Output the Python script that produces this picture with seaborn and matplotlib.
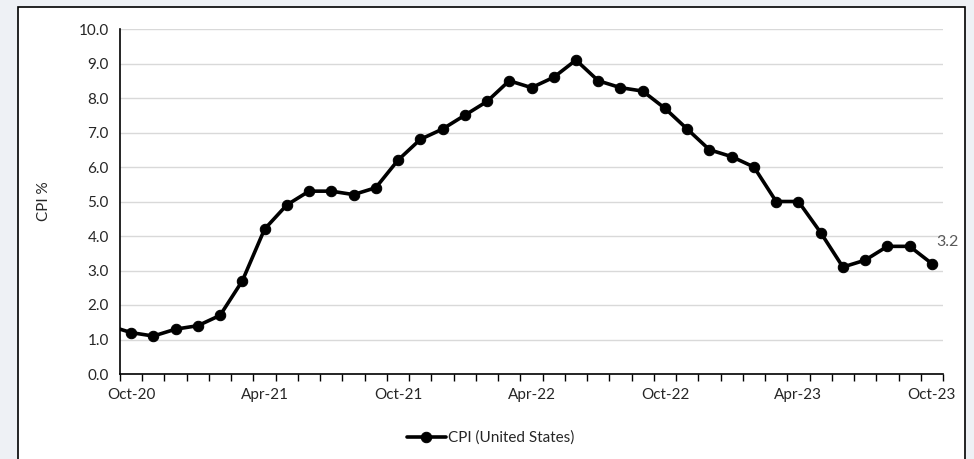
'''US CPI line chart, Oct-20 to Oct-23'''
import numpy as np
import pandas as pd
import seaborn as sns
import matplotlib.pyplot as plt
from matplotlib.patches import Rectangle

# monthly CPI %, Sep-20 (clipped at the left edge) to Oct-23
months = ['Sep-20', 'Oct-20', 'Nov-20', 'Dec-20', 'Jan-21', 'Feb-21', 'Mar-21',
          'Apr-21', 'May-21', 'Jun-21', 'Jul-21', 'Aug-21', 'Sep-21',
          'Oct-21', 'Nov-21', 'Dec-21', 'Jan-22', 'Feb-22', 'Mar-22',
          'Apr-22', 'May-22', 'Jun-22', 'Jul-22', 'Aug-22', 'Sep-22',
          'Oct-22', 'Nov-22', 'Dec-22', 'Jan-23', 'Feb-23', 'Mar-23',
          'Apr-23', 'May-23', 'Jun-23', 'Jul-23', 'Aug-23', 'Sep-23', 'Oct-23']
cpi = [1.4, 1.2, 1.1, 1.3, 1.4, 1.7, 2.7,
       4.2, 4.9, 5.3, 5.3, 5.2, 5.4,
       6.2, 6.8, 7.1, 7.5, 7.9, 8.5,
       8.3, 8.6, 9.1, 8.5, 8.3, 8.2,
       7.7, 7.1, 6.5, 6.3, 6.0, 5.0,
       5.0, 4.1, 3.1, 3.3, 3.7, 3.7, 3.2]
tick_labels = ['Oct-20', 'Apr-21', 'Oct-21', 'Apr-22', 'Oct-22', 'Apr-23', 'Oct-23']
series_name = 'CPI (United States)'


def main():
    sns.set_style('white')
    plt.rcParams['font.family'] = ['Lato', 'DejaVu Sans']

    df = pd.DataFrame({'month': months, 'cpi': cpi})
    df['pos'] = np.arange(len(df)) - 1  # Oct-20 -> 0

    fig = plt.figure(figsize=(9.74, 4.59), dpi=100, facecolor='#eef1f5')
    box = Rectangle((18 / 974, -0.02), 947 / 974, 1.02 - 7 / 459,
                    transform=fig.transFigure, facecolor='white',
                    edgecolor='black', linewidth=1.2, zorder=-5)
    fig.add_artist(box)
    ax = fig.add_axes([120 / 974, 85 / 459, 823 / 974, 345 / 459])
    ax.set_zorder(2)
    ax.set_facecolor('white')

    sns.lineplot(data=df, x='pos', y='cpi', ax=ax, color='black',
                 linewidth=2.6, marker='o', markersize=7.5,
                 markeredgecolor='black', label=series_name, clip_on=True)

    ax.set_xlim(-0.5, 36.5)
    ax.set_ylim(0, 10)
    ax.set_yticks(np.arange(0, 10.1, 1.0))
    ax.set_yticklabels([f'{v:.1f}' for v in np.arange(0, 10.1, 1.0)])
    ax.set_xticks(df['pos'][df['month'].isin(tick_labels)])
    ax.set_xticklabels(tick_labels)
    ax.set_xticks(np.arange(-0.5, 37, 1), minor=True)
    ax.tick_params(axis='x', which='major', length=0, pad=10, labelsize=11,
                   labelcolor='#262626')
    ax.tick_params(axis='x', which='minor', length=5, width=1, color='black',
                   direction='out', bottom=True)
    ax.tick_params(axis='y', length=0, pad=8, labelsize=11, labelcolor='#262626')
    ax.grid(axis='y', color='#d9d9d9', linewidth=1)
    ax.set_axisbelow(True)
    ax.set_xlabel('')
    ax.set_ylabel('CPI %', fontsize=11, labelpad=20, color='#262626')

    for side in ['top', 'right']:
        ax.spines[side].set_visible(False)
    for side in ['left', 'bottom']:
        ax.spines[side].set_color('black')
        ax.spines[side].set_linewidth(1.2)

    # data label on last point
    ax.annotate(f'{cpi[-1]:.1f}', (df['pos'].iloc[-1], cpi[-1]),
                xytext=(3, 13), textcoords='offset points',
                color='#595959', fontsize=11.5, annotation_clip=False)

    ax.legend(loc='upper center', bbox_to_anchor=(0.45, -0.125), frameon=False,
              fontsize=11, handlelength=2.6, handletextpad=0.1,
              labelcolor='#262626')

    fig.savefig('out.png', dpi=100, facecolor=fig.get_facecolor())


if __name__ == '__main__':
    main()
